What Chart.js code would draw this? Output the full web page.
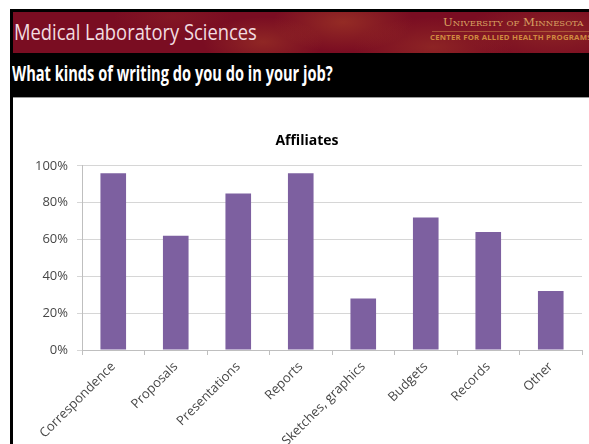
<!DOCTYPE html>
<html>
<head>
<meta charset="utf-8">
<script src="https://cdn.jsdelivr.net/npm/chart.js@4/dist/chart.umd.min.js"></script>
<style>
  html, body { margin: 0; padding: 0; }
  body {
    width: 589px; height: 444px; overflow: hidden; position: relative;
    background: #fff; font-family: 'Open Sans', sans-serif;
  }
  .abs { position: absolute; }
  #frame { left: 10px; top: 9px; width: 579px; height: 435px; background: #000; }
  #banner {
    left: 13px; top: 12px; width: 576px; height: 41px; overflow: hidden;
    background:
      radial-gradient(ellipse 60px 25px at 250px 30px, rgba(170,70,40,0.45), rgba(170,70,40,0) 100%),
      radial-gradient(ellipse 70px 30px at 330px 10px, rgba(180,80,40,0.45), rgba(180,80,40,0) 100%),
      radial-gradient(ellipse 80px 30px at 420px 35px, rgba(170,70,40,0.4), rgba(170,70,40,0) 100%),
      radial-gradient(ellipse 90px 30px at 540px 20px, rgba(160,60,40,0.45), rgba(160,60,40,0) 100%),
      radial-gradient(ellipse 60px 20px at 160px 5px, rgba(150,40,40,0.35), rgba(150,40,40,0) 100%),
      #7a0d22;
  }
  .fit { white-space: nowrap; transform-origin: 0 0; display: inline-block; }
  #mls { left: 14px; top: 17px; font-size: 21px; color: #f2dde0; line-height: 30px; }
  #q { left: 12px; top: 56px; font-size: 22px; font-weight: bold; color: #fff; line-height: 32px; }
  #umn { left: 443px; top: 16px; font-family: 'DejaVu Serif', serif; font-variant: small-caps; font-size: 11px; color: #d8a060; line-height: 13px; }
  #chp { left: 430px; top: 34px; font-size: 7px; font-weight: bold; color: #d08a40; line-height: 8px; letter-spacing: 0.2px; }
  #rule { left: 432px; top: 31px; width: 157px; height: 1px; background: rgba(215,150,80,0.45); }
  #gray { left: 13px; top: 97px; width: 576px; height: 1px; background: #9a9a9a; }
  #white { left: 13px; top: 98px; width: 576px; height: 346px; background: #fff; }
  #wrap { left: 13px; top: 98px; width: 594px; height: 400px; }
</style>
</head>
<body>
<div id="frame" class="abs"></div>
<div id="banner" class="abs"></div>
<div id="mls" class="abs fit" data-w="243">Medical Laboratory Sciences</div>
<div id="umn" class="abs fit" data-w="140">University of Minnesota</div>
<div id="rule" class="abs"></div>
<div id="chp" class="abs fit" data-w="162">CENTER FOR ALLIED HEALTH PROGRAMS</div>
<div id="q" class="abs fit" data-w="321">What kinds of writing do you do in your job?</div>
<div id="gray" class="abs"></div>
<div id="white" class="abs"></div>
<div id="wrap" class="abs"><canvas id="chart" width="594" height="400"></canvas></div>
<script>
// survey answers, share of affiliates (%)
const categories = ['Correspondence', 'Proposals', 'Presentations', 'Reports', 'Sketches, graphics', 'Budgets', 'Records', 'Other'];
const affiliates = [96, 62, 85, 96, 28, 72, 64, 32];
const yTicks = [0, 20, 40, 60, 80, 100];

// squeeze header text to the slide's narrow look
document.querySelectorAll('.fit').forEach(function(el) {
    const target = parseFloat(el.dataset.w);
    el.style.transform = 'scaleX(' + (target / el.offsetWidth) + ')';
});

const ctx = document.getElementById('chart').getContext('2d');
new Chart(ctx, {
    type: 'bar',
    data: {
        labels: categories,
        datasets: [{
            label: 'Affiliates',
            data: affiliates,
            backgroundColor: '#7d60a0',
            barPercentage: 0.41,
            categoryPercentage: 1
        }]
    },
    options: {
        responsive: false,
        animation: false,
        layout: { padding: { left: 19, right: 25, top: 0, bottom: 0 } },
        plugins: {
            legend: { display: false },
            tooltip: { enabled: false },
            title: {
                display: true,
                text: 'Affiliates',
                color: '#000',
                font: { family: 'Open Sans', size: 14, weight: 'bold' },
                padding: { top: 35, bottom: 16 }
            }
        },
        scales: {
            x: {
                offset: true,
                grid: { offset: true, drawOnChartArea: false, drawTicks: true, tickLength: 5, color: '#bfbfbf' },
                border: { color: '#bfbfbf' },
                ticks: {
                    maxRotation: 45, minRotation: 45, autoSkip: false, padding: 4,
                    color: '#474747',
                    font: { family: 'Open Sans', size: 13 }
                },
                afterFit: function(scale) { scale.height = 148; }
            },
            y: {
                min: 0,
                max: 100,
                afterBuildTicks: function(scale) { scale.ticks = yTicks.map(v => ({ value: v })); },
                grid: { color: '#d6d6d6', tickLength: 5 },
                border: { color: '#bfbfbf' },
                ticks: {
                    padding: 9,
                    color: '#474747',
                    font: { family: 'Open Sans', size: 13 },
                    callback: function(v) { return v + '%'; }
                },
                afterFit: function(scale) { scale.width = 50; }
            }
        }
    }
});
</script>
</body>
</html>
